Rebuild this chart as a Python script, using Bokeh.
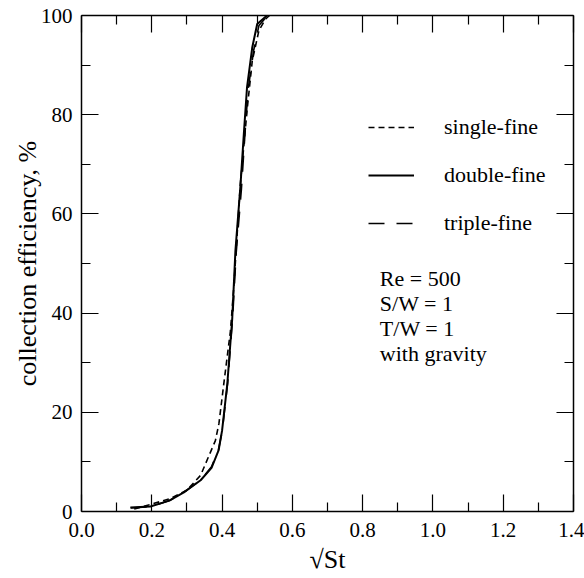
from bokeh.plotting import figure
from bokeh.models import (Range1d, LinearAxis, FixedTicker, PrintfTickFormatter,
                          Legend, LegendItem, Label)
from bokeh.embed import file_html
from bokeh.resources import INLINE

# ---- data ----
x_single = [0.15, 0.20, 0.253, 0.30, 0.339, 0.381, 0.391, 0.405, 0.424, 0.434, 0.452, 0.471, 0.486, 0.505, 0.524, 0.535]
y_single = [0.5, 1.5, 2.6, 4.3, 7.3, 14.3, 17.7, 25.8, 36.5, 45.9, 66.0, 80.8, 90.9, 97.0, 99.3, 100.0]

x_double = [0.139, 0.196, 0.25, 0.29, 0.339, 0.37, 0.39, 0.40, 0.415, 0.429, 0.438, 0.452, 0.462, 0.471, 0.486, 0.50, 0.528]
y_double = [0.8, 1.0, 2.2, 3.8, 6.3, 8.8, 12.3, 16.3, 25.8, 39.0, 52.6, 65.4, 76.2, 85.5, 93.6, 98.3, 100.0]

x_triple = [0.14, 0.20, 0.25, 0.29, 0.34, 0.37, 0.39, 0.401, 0.416, 0.43, 0.44, 0.455, 0.465, 0.474, 0.49, 0.505, 0.53]
y_triple = [0.7, 1.0, 2.2, 3.8, 6.4, 9.0, 12.5, 16.5, 26.0, 39.0, 52.0, 65.0, 76.0, 85.0, 93.0, 98.0, 100.0]

x_ticks = [0.0, 0.2, 0.4, 0.6, 0.8, 1.0, 1.2, 1.4]
x_minor = [0.1, 0.3, 0.5, 0.7, 0.9, 1.1, 1.3]
y_ticks = [0, 20, 40, 60, 80, 100]
y_minor = [10, 30, 50, 70, 90]

series_labels = ["single-fine", "double-fine", "triple-fine"]
note_lines = ["Re = 500", "S/W = 1", "T/W = 1", "with gravity"]
x_label = "\u221aSt"
y_label = "collection efficiency, %"

FONT = "Liberation Serif"

p = figure(width=584, height=578, output_backend="svg", toolbar_location=None,
           x_range=Range1d(0, 1.4), y_range=Range1d(0, 100),
           min_border_left=81, min_border_right=11, min_border_top=15, min_border_bottom=67,
           x_axis_location=None, y_axis_location=None)
p.grid.visible = False
p.outline_line_color = None
p.background_fill_color = "white"
p.border_fill_color = "white"

def style_axis(ax, show_labels):
    ax.axis_line_color = "black"
    ax.axis_line_width = 1.5
    ax.major_tick_in = 17
    ax.major_tick_out = 0
    ax.minor_tick_in = 9
    ax.minor_tick_out = 0
    ax.major_tick_line_color = "black"
    ax.minor_tick_line_color = "black"
    ax.major_tick_line_width = 1.2
    ax.minor_tick_line_width = 1.2
    ax.major_label_text_font = FONT
    ax.major_label_text_font_size = "21px"
    ax.major_label_text_color = "black"
    ax.axis_label_text_font = FONT
    ax.axis_label_text_font_style = "normal"
    ax.axis_label_text_color = "black"
    if not show_labels:
        ax.major_label_text_font_size = "0px"
        ax.major_label_text_color = None

xb = LinearAxis(ticker=FixedTicker(ticks=x_ticks, minor_ticks=x_minor),
                formatter=PrintfTickFormatter(format="%.1f"))
style_axis(xb, True)
xb.major_label_standoff = 11
xb.axis_label = x_label
xb.axis_label_text_font_size = "26px"
xb.axis_label_standoff = 5
p.add_layout(xb, "below")

yl = LinearAxis(ticker=FixedTicker(ticks=y_ticks, minor_ticks=y_minor))
style_axis(yl, True)
yl.major_label_standoff = 9
yl.axis_label = y_label
yl.axis_label_text_font_size = "26px"
yl.axis_label_standoff = -4
p.add_layout(yl, "left")

xa = LinearAxis(ticker=FixedTicker(ticks=x_ticks, minor_ticks=x_minor))
style_axis(xa, False)
xa.major_label_standoff = 0
p.add_layout(xa, "above")

yr = LinearAxis(ticker=FixedTicker(ticks=y_ticks, minor_ticks=y_minor))
style_axis(yr, False)
yr.major_label_standoff = 0
p.add_layout(yr, "right")

r1 = p.line(x_single, y_single, line_color="black", line_width=1.6, line_dash="6 4")
r2 = p.line(x_double, y_double, line_color="black", line_width=2.0)
r3 = p.line(x_triple, y_triple, line_color="black", line_width=1.6, line_dash="16 12")

legend = Legend(items=[LegendItem(label=series_labels[0], renderers=[r1]),
                       LegendItem(label=series_labels[1], renderers=[r2]),
                       LegendItem(label=series_labels[2], renderers=[r3])],
                location=(287, 275), orientation="vertical")
legend.glyph_width = 46
legend.glyph_height = 22
legend.label_standoff = 30
legend.spacing = 22
legend.padding = 0
legend.margin = 0
legend.border_line_color = None
legend.background_fill_alpha = 0
legend.label_text_font = FONT
legend.label_text_font_size = "22px"
legend.label_text_color = "black"
p.add_layout(legend, "center")

note_x = 0.849
note_y = [47.0, 42.0, 36.9, 31.9]
for t, yy in zip(note_lines, note_y):
    p.add_layout(Label(x=note_x, y=yy, text=t, text_font=FONT, text_font_size="22px",
                       text_baseline="middle", text_align="left", text_color="black"))

open("out.html", "w").write(file_html(p, INLINE))
